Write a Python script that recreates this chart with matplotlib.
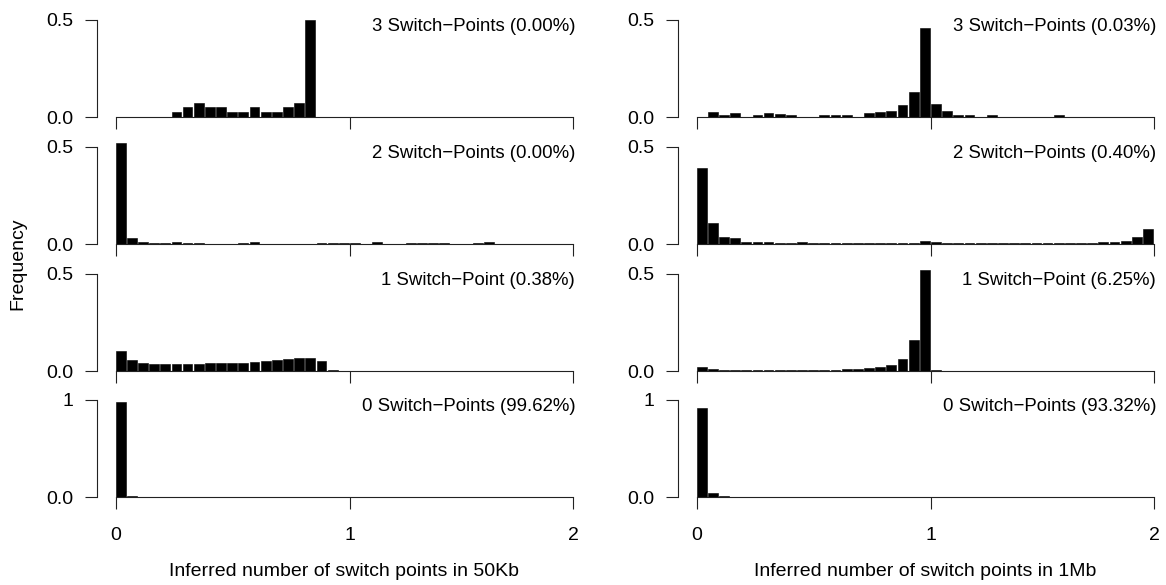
import matplotlib
matplotlib.use("Agg")
import matplotlib.pyplot as plt
import numpy as np

plt.rcParams['font.family'] = ['Liberation Sans', 'DejaVu Sans']

# 41 histogram bins spanning 0..2 switch points (bin index units)
n_bins = 41

# Left column: 50Kb windows (rows top -> bottom: 3, 2, 1, 0 switch points)
kb50_sp3 = [0, 0, 0, 0, 0, 0.024, 0.049, 0.073, 0.049, 0.049, 0.024, 0.024, 0.049,
            0.024, 0.024, 0.049, 0.073, 0.50] + [0] * 23
kb50_sp2 = [0.52, 0.032, 0.012, 0.007, 0.007, 0.012, 0.007, 0.007, 0, 0, 0, 0.007,
            0.012, 0, 0, 0, 0, 0, 0.007, 0.007, 0.007, 0.007, 0, 0.012, 0, 0, 0.007,
            0.007, 0.007, 0.007, 0, 0, 0.007, 0.012, 0, 0, 0, 0, 0, 0, 0]
kb50_sp1 = [0.102, 0.056, 0.041, 0.036, 0.036, 0.036, 0.036, 0.036, 0.041, 0.041,
            0.041, 0.041, 0.046, 0.051, 0.056, 0.061, 0.067, 0.067, 0.051, 0.005] + [0] * 21
kb50_sp0 = [0.97, 0.01] + [0] * 39

# Right column: 1Mb windows
mb1_sp3 = [0, 0.024, 0.009, 0.019, 0, 0.009, 0.019, 0.014, 0.009, 0, 0, 0.009, 0.009,
           0.009, 0, 0.019, 0.024, 0.031, 0.061, 0.128, 0.457, 0.065, 0.031, 0.009,
           0.009, 0, 0.009, 0, 0, 0, 0, 0, 0.009, 0, 0, 0, 0, 0, 0, 0, 0]
mb1_sp2 = [0.39, 0.11, 0.037, 0.032, 0.012, 0.012, 0.012, 0.007, 0.007, 0.012, 0.007,
           0.007, 0.007, 0.007, 0.007, 0.007, 0.007, 0.007, 0.007, 0.007, 0.017, 0.012,
           0.007, 0.007, 0.007, 0.007, 0.007, 0.007, 0.007, 0.007, 0.007, 0.007, 0.007,
           0.007, 0.007, 0.007, 0.012, 0.012, 0.017, 0.037, 0.078]
mb1_sp1 = [0.020, 0.010] + [0.005] * 11 + [0.010, 0.010, 0.015, 0.020, 0.031, 0.061,
           0.159, 0.52, 0.005] + [0] * 19
mb1_sp0 = [0.908, 0.044, 0.014] + [0] * 38

panel_labels_50kb = ["3 Switch\u2212Points (0.00%)", "2 Switch\u2212Points (0.00%)",
                     "1 Switch\u2212Point (0.38%)", "0 Switch\u2212Points (99.62%)"]
panel_labels_1mb = ["3 Switch\u2212Points (0.03%)", "2 Switch\u2212Points (0.40%)",
                    "1 Switch\u2212Point (6.25%)", "0 Switch\u2212Points (93.32%)"]
x_tick_labels = ["0", "1", "2"]
x_tick_bins = [0, 21, 41]
x_titles = ["Inferred number of switch points in 50Kb",
            "Inferred number of switch points in 1Mb"]
y_title = "Frequency"

columns = [[kb50_sp3, kb50_sp2, kb50_sp1, kb50_sp0],
           [mb1_sp3, mb1_sp2, mb1_sp1, mb1_sp0]]
labels = [panel_labels_50kb, panel_labels_1mb]
y_top_ticks = [0.5, 0.5, 0.5, 1.0]
y_top_labels = ["0.5", "0.5", "0.5", "1"]

W, H = 1166, 585
fig = plt.figure(figsize=(W / 100, H / 100), dpi=100)

tick0_px = [115.7, 696.7]
bw_px = 11.16
baselines = [117, 244, 371, 497]
ext = 0.04 * n_bins
FS = 14
FS_PANEL = 13.4

for c in range(2):
    for r in range(4):
        ytick = y_top_ticks[r]
        ppu = 97.5 / ytick
        ymax = ytick * 1.1
        h_px = ymax * ppu
        left_px = tick0_px[c] - ext * bw_px
        w_px = (n_bins + 2 * ext) * bw_px
        ax = fig.add_axes([left_px / W, 1 - baselines[r] / H, w_px / W, h_px / H])
        vals = columns[c][r]
        ax.bar(np.arange(n_bins), vals, width=0.88, align='edge', color='black',
               edgecolor='black', linewidth=0.4)
        ax.set_xlim(-ext, n_bins + ext)
        ax.set_ylim(0, ymax)
        for s in ['top', 'right']:
            ax.spines[s].set_visible(False)
        ax.spines['left'].set_bounds(0, ytick)
        ax.spines['bottom'].set_bounds(0, n_bins)
        for s in ['left', 'bottom']:
            ax.spines[s].set_linewidth(0.8)
            ax.spines[s].set_color('#222222')
        ax.set_yticks([0, ytick])
        ax.set_yticklabels(["0.0", y_top_labels[r]], fontsize=FS)
        ax.set_xticks(x_tick_bins)
        if r == 3:
            ax.set_xticklabels(x_tick_labels, fontsize=FS)
        else:
            ax.set_xticklabels([])
        ax.tick_params(axis='both', direction='out', length=8.6, width=0.8,
                       color='#222222')
        ax.tick_params(axis='y', pad=8.5)
        ax.tick_params(axis='x', pad=13)
        ax.patch.set_alpha(0)
        ax.text(n_bins + 0.17, ytick - 7 / ppu, labels[c][r], ha='right', va='center',
                fontsize=FS_PANEL)
    fig.text((tick0_px[c] + n_bins * bw_px / 2) / W, 1 - 571 / H, x_titles[c],
             ha='center', va='center', fontsize=FS)

fig.text(18 / W, 1 - 264 / H, y_title, rotation=90, ha='center', va='center',
         fontsize=FS)

fig.savefig("out.png", dpi=100)
